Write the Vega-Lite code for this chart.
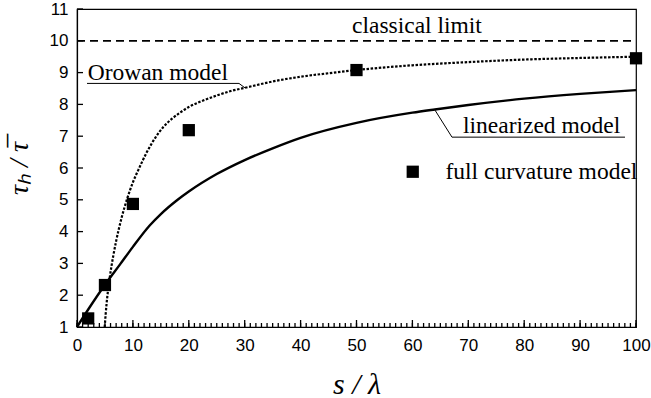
{
  "$schema": "https://vega.github.io/schema/vega-lite/v6.json",
  "autosize": {"type": "none"},
  "width": 559,
  "height": 318,
  "padding": {"left": 77, "top": 9, "right": 15, "bottom": 71},
  "config": {
    "view": {"stroke": "black", "strokeWidth": 1.2}
  },
  "resolve": {"axis": {"x": "independent", "y": "independent"}},
  "datasets": {
    "xticks": [
      {"v": 0}, {"v": 1}, {"v": 2}, {"v": 3}, {"v": 4}, {"v": 5}, {"v": 6}, {"v": 7}, {"v": 8}, {"v": 9},
      {"v": 10}, {"v": 11}, {"v": 12}, {"v": 13}, {"v": 14}, {"v": 15}, {"v": 16}, {"v": 17}, {"v": 18}, {"v": 19},
      {"v": 20}, {"v": 21}, {"v": 22}, {"v": 23}, {"v": 24}, {"v": 25}, {"v": 26}, {"v": 27}, {"v": 28}, {"v": 29},
      {"v": 30}, {"v": 31}, {"v": 32}, {"v": 33}, {"v": 34}, {"v": 35}, {"v": 36}, {"v": 37}, {"v": 38}, {"v": 39},
      {"v": 40}, {"v": 41}, {"v": 42}, {"v": 43}, {"v": 44}, {"v": 45}, {"v": 46}, {"v": 47}, {"v": 48}, {"v": 49},
      {"v": 50}, {"v": 51}, {"v": 52}, {"v": 53}, {"v": 54}, {"v": 55}, {"v": 56}, {"v": 57}, {"v": 58}, {"v": 59},
      {"v": 60}, {"v": 61}, {"v": 62}, {"v": 63}, {"v": 64}, {"v": 65}, {"v": 66}, {"v": 67}, {"v": 68}, {"v": 69},
      {"v": 70}, {"v": 71}, {"v": 72}, {"v": 73}, {"v": 74}, {"v": 75}, {"v": 76}, {"v": 77}, {"v": 78}, {"v": 79},
      {"v": 80}, {"v": 81}, {"v": 82}, {"v": 83}, {"v": 84}, {"v": 85}, {"v": 86}, {"v": 87}, {"v": 88}, {"v": 89},
      {"v": 90}, {"v": 91}, {"v": 92}, {"v": 93}, {"v": 94}, {"v": 95}, {"v": 96}, {"v": 97}, {"v": 98}, {"v": 99},
      {"v": 100}
    ],
    "yticks": [
      {"v": 1}, {"v": 2}, {"v": 3}, {"v": 4}, {"v": 5}, {"v": 6}, {"v": 7}, {"v": 8}, {"v": 9}, {"v": 10}, {"v": 11}
    ],
    "limit": [{"x": 0, "y": 10}, {"x": 100, "y": 10}],
    "orowan": [
      {"x": 4.95, "y": 1.0}, {"x": 5.3, "y": 1.75}, {"x": 5.8, "y": 2.48}, {"x": 6.5, "y": 3.25},
      {"x": 7, "y": 3.7}, {"x": 8, "y": 4.45}, {"x": 9, "y": 5.05}, {"x": 10, "y": 5.55},
      {"x": 11, "y": 5.95}, {"x": 12.5, "y": 6.5}, {"x": 14, "y": 6.95}, {"x": 15.5, "y": 7.3},
      {"x": 17, "y": 7.55}, {"x": 18.5, "y": 7.75}, {"x": 20, "y": 7.92}, {"x": 22, "y": 8.08},
      {"x": 25, "y": 8.28}, {"x": 27.5, "y": 8.42}, {"x": 30, "y": 8.52}, {"x": 35, "y": 8.72},
      {"x": 40, "y": 8.87}, {"x": 45, "y": 8.98}, {"x": 50, "y": 9.08}, {"x": 60, "y": 9.23},
      {"x": 70, "y": 9.33}, {"x": 80, "y": 9.41}, {"x": 90, "y": 9.46}, {"x": 100, "y": 9.5}
    ],
    "linear": [
      {"x": 0, "y": 1.0}, {"x": 2, "y": 1.55}, {"x": 5, "y": 2.33}, {"x": 7.7, "y": 2.97},
      {"x": 10, "y": 3.52}, {"x": 13, "y": 4.19}, {"x": 15, "y": 4.55}, {"x": 18, "y": 5.0},
      {"x": 20, "y": 5.26}, {"x": 25, "y": 5.81}, {"x": 30, "y": 6.25}, {"x": 35, "y": 6.62},
      {"x": 40, "y": 6.95}, {"x": 50, "y": 7.42}, {"x": 60, "y": 7.74}, {"x": 64, "y": 7.84},
      {"x": 70, "y": 7.98}, {"x": 80, "y": 8.18}, {"x": 90, "y": 8.33}, {"x": 100, "y": 8.45}
    ],
    "full": [
      {"x": 2, "y": 1.27, "series": "full curvature model"},
      {"x": 5, "y": 2.32, "series": "full curvature model"},
      {"x": 10, "y": 4.87, "series": "full curvature model"},
      {"x": 20, "y": 7.19, "series": "full curvature model"},
      {"x": 50, "y": 9.08, "series": "full curvature model"},
      {"x": 100, "y": 9.45, "series": "full curvature model"}
    ],
    "leaders": [
      {"g": "orowan", "o": 1, "x": 1.79, "y": 8.66},
      {"g": "orowan", "o": 2, "x": 28.98, "y": 8.66},
      {"g": "orowan", "o": 3, "x": 30.05, "y": 8.52},
      {"g": "linear", "o": 1, "x": 98.03, "y": 6.97},
      {"g": "linear", "o": 2, "x": 67.08, "y": 6.97},
      {"g": "linear", "o": 3, "x": 64.04, "y": 7.82}
    ],
    "labels": [
      {"x": 1.91, "y": 8.77, "label": "Orowan model"},
      {"x": 69.05, "y": 7.1, "label": "linearized model"},
      {"x": 49.2, "y": 10.25, "label": "classical limit"}
    ]
  },
  "layer": [
    {
      "data": {"name": "limit"},
      "mark": {"type": "line", "color": "black", "strokeWidth": 1.8, "strokeDash": [8, 5]},
      "encoding": {
        "x": {
          "field": "x", "type": "quantitative",
          "scale": {"domain": [0, 100], "nice": false, "zero": false},
          "axis": {
            "orient": "bottom",
            "title": "s / λ", "titleFontSize": 30, "titleY": 66, "titleBaseline": "alphabetic",
            "titleFont": "Liberation Serif", "titleFontStyle": "italic", "titleFontWeight": "normal", "titleColor": "black",
            "values": [0, 10, 20, 30, 40, 50, 60, 70, 80, 90, 100],
            "ticks": false, "grid": false, "labelFlush": false, "labelOverlap": false, "labelPadding": 10,
            "labelFont": "Liberation Sans", "labelFontSize": 17, "labelColor": "black",
            "domainColor": "black", "domainWidth": 1.2
          }
        },
        "y": {
          "field": "y", "type": "quantitative",
          "scale": {"domain": [1, 11], "nice": false, "zero": false},
          "axis": {
            "orient": "left",
            "title": "τₕ / τ̅", "titleFontSize": 28, "titleX": -58, "titleBaseline": "middle",
            "titleFont": "Liberation Serif", "titleFontStyle": "italic", "titleFontWeight": "normal", "titleColor": "black",
            "values": [1, 2, 3, 4, 5, 6, 7, 8, 9, 10, 11],
            "ticks": false, "grid": false, "labelOverlap": false, "labelPadding": 9,
            "labelFont": "Liberation Sans", "labelFontSize": 17, "labelColor": "black",
            "domainColor": "black", "domainWidth": 1.2
          }
        }
      }
    },
    {
      "data": {"name": "xticks"},
      "mark": {"type": "rule", "color": "black", "strokeWidth": 1.3, "y2Offset": -4},
      "encoding": {
        "x": {"field": "v", "type": "quantitative", "axis": null},
        "y": {"datum": 1, "type": "quantitative", "axis": null},
        "y2": {"datum": 1}
      }
    },
    {
      "data": {"name": "xticks"},
      "transform": [{"filter": "datum.v % 10 === 0"}],
      "mark": {"type": "rule", "color": "black", "strokeWidth": 1.3, "y2Offset": -7},
      "encoding": {
        "x": {"field": "v", "type": "quantitative", "axis": null},
        "y": {"datum": 1, "type": "quantitative", "axis": null},
        "y2": {"datum": 1}
      }
    },
    {
      "data": {"name": "yticks"},
      "mark": {"type": "rule", "color": "black", "strokeWidth": 1.3, "x2Offset": 6},
      "encoding": {
        "y": {"field": "v", "type": "quantitative", "axis": null},
        "x": {"datum": 0, "type": "quantitative", "axis": null},
        "x2": {"datum": 0}
      }
    },
    {
      "data": {"name": "orowan"},
      "mark": {"type": "line", "color": "black", "strokeWidth": 2.2, "strokeDash": [2.5, 1.6], "interpolate": "monotone"},
      "encoding": {
        "x": {"field": "x", "type": "quantitative", "axis": null},
        "y": {"field": "y", "type": "quantitative", "axis": null}
      }
    },
    {
      "data": {"name": "linear"},
      "mark": {"type": "line", "color": "black", "strokeWidth": 2.4, "interpolate": "monotone"},
      "encoding": {
        "x": {"field": "x", "type": "quantitative", "axis": null},
        "y": {"field": "y", "type": "quantitative", "axis": null}
      }
    },
    {
      "data": {"name": "leaders"},
      "mark": {"type": "line", "color": "black", "strokeWidth": 1},
      "encoding": {
        "x": {"field": "x", "type": "quantitative", "axis": null},
        "y": {"field": "y", "type": "quantitative", "axis": null},
        "detail": {"field": "g"},
        "order": {"field": "o"}
      }
    },
    {
      "data": {"name": "full"},
      "mark": {"type": "point", "shape": "square", "filled": true, "size": 150, "opacity": 1},
      "encoding": {
        "x": {"field": "x", "type": "quantitative", "axis": null},
        "y": {"field": "y", "type": "quantitative", "axis": null},
        "color": {
          "field": "series", "type": "nominal",
          "scale": {"range": ["black"]},
          "legend": {
            "title": null, "orient": "none", "legendX": 324, "legendY": 151,
            "symbolType": "square", "symbolSize": 150, "symbolStrokeWidth": 0,
            "labelFont": "Liberation Serif", "labelFontSize": 23.5, "labelColor": "black",
            "labelOffset": 21, "labelLimit": 400, "padding": 0
          }
        }
      }
    },
    {
      "data": {"name": "labels"},
      "mark": {"type": "text", "align": "left", "baseline": "alphabetic", "font": "Liberation Serif", "fontSize": 23.5, "color": "black"},
      "encoding": {
        "x": {"field": "x", "type": "quantitative", "axis": null},
        "y": {"field": "y", "type": "quantitative", "axis": null},
        "text": {"field": "label"}
      }
    }
  ]
}
